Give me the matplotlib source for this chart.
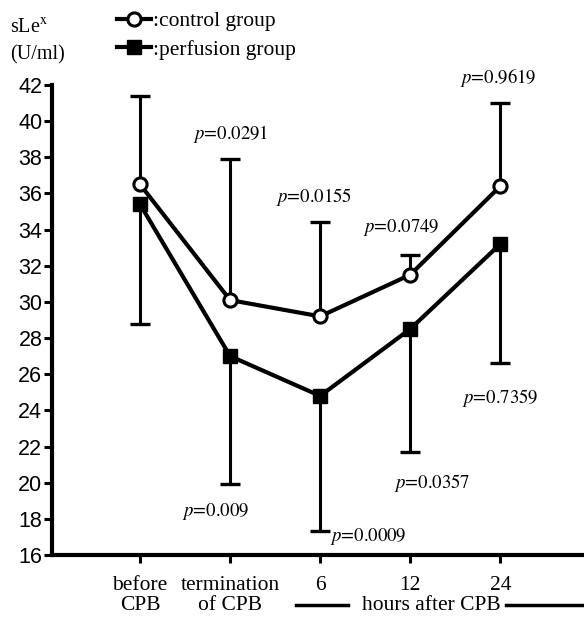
import numpy as np
import matplotlib
matplotlib.use('Agg')
from matplotlib import pyplot as plt
from matplotlib.lines import Line2D
import matplotlib.transforms as mtransforms

plt.rcParams['mathtext.fontset'] = 'stix'

# data
categories = ['before\nCPB', 'termination\nof CPB', '6', '12', '24']
control_mean = [36.5, 30.1, 29.2, 31.5, 36.4]
control_err_up = [4.9, 7.8, 5.2, 1.1, 4.6]
perfusion_mean = [35.4, 27.0, 24.8, 28.5, 33.2]
perfusion_err_down = [6.6, 7.1, 7.5, 6.8, 6.6]

p_labels = ['0.0291', '0.0155', '0.0749', '0.9619',
            '0.009', '0.0009', '0.0357', '0.7359']
p_x = [1.01, 1.93, 2.9, 3.98, 0.84, 2.53, 3.24, 4.0]
p_y = [39.3, 35.8, 34.1, 42.4, 18.4, 17.0, 20.0, 24.7]

serif = 'Liberation Serif'
sans = 'Liberation Sans'

fig = plt.figure(figsize=(5.84, 6.24), dpi=100)
ax = fig.add_axes([0.089, 0.1106, 0.911, 0.7532])

x = np.arange(len(categories))
c_top = np.array(control_mean) + np.array(control_err_up)
p_bot = np.array(perfusion_mean) - np.array(perfusion_err_down)

# one-sided error bars: control up, perfusion down
ax.vlines(x, control_mean, c_top, color='black', lw=2.2, zorder=2)
ax.vlines(x, p_bot, perfusion_mean, color='black', lw=2.2, zorder=2)
ax.scatter(x, c_top, marker='_', s=190, color='black', linewidths=2.4,
           zorder=2, clip_on=False)
ax.scatter(x, p_bot, marker='_', s=190, color='black', linewidths=2.4,
           zorder=2, clip_on=False)

ax.plot(x, perfusion_mean, color='black', lw=3, marker='s', ms=10,
        mfc='black', mec='black', zorder=3, clip_on=False)
ax.plot(x, control_mean, color='black', lw=3, marker='o', ms=9.5,
        mfc='white', mec='black', mew=2.2, zorder=4, clip_on=False)

for lab, px, py in zip(p_labels, p_x, p_y):
    ax.text(px, py, r'$p$=' + lab, ha='center', va='center',
            family='STIXGeneral', fontsize=13.5, clip_on=False)

ax.set_xlim(-0.978, 4.93)
ax.set_ylim(16, 42)
ax.set_yticks(np.arange(16, 43, 2))
ax.set_xticks(x)
ax.set_xticklabels(categories, family=serif, fontsize=15.5, linespacing=1.1)
for t in ax.get_yticklabels():
    t.set_family(sans)
    t.set_fontsize(15.5)
ax.tick_params(axis='y', direction='out', length=6, width=2.2, pad=1)
ax.tick_params(axis='x', direction='out', length=6, width=2.2, pad=9)
for s in ['top', 'right']:
    ax.spines[s].set_visible(False)
for s in ['left', 'bottom']:
    ax.spines[s].set_linewidth(3)

# "hours after CPB" with lines below the 6/12/24 labels
trans = mtransforms.blended_transform_factory(ax.transData, ax.transAxes)
ax.text(3.23, -0.107, 'hours after CPB', transform=trans, ha='center',
        va='center', family=serif, fontsize=15.5, clip_on=False)
ax.plot([1.73, 2.31], [-0.107, -0.107], transform=trans, color='black',
        lw=2.5, clip_on=False)
ax.plot([4.06, 4.93], [-0.107, -0.107], transform=trans, color='black',
        lw=2.5, clip_on=False)

# y label
fig.text(0.017, 0.955, r'sLe$^{\mathrm{x}}$', family=serif, fontsize=14.5,
         ha='left', va='center')
fig.text(0.017, 0.912, '(U/ml)', family=serif, fontsize=14.5,
         ha='left', va='center')

handles = [
    Line2D([], [], color='black', lw=3, marker='o', ms=9.5, mfc='white',
           mec='black', mew=2.2),
    Line2D([], [], color='black', lw=3, marker='s', ms=10, mfc='black'),
]
fig.legend(handles, [':control group', ':perfusion group'], loc='upper left',
           bbox_to_anchor=(0.17, 1.01), frameon=False, handlelength=1.6,
           handletextpad=0.1, labelspacing=0.4, borderpad=0.3,
           prop={'family': serif, 'size': 15.5})

plt.savefig('out.png', dpi=100)
